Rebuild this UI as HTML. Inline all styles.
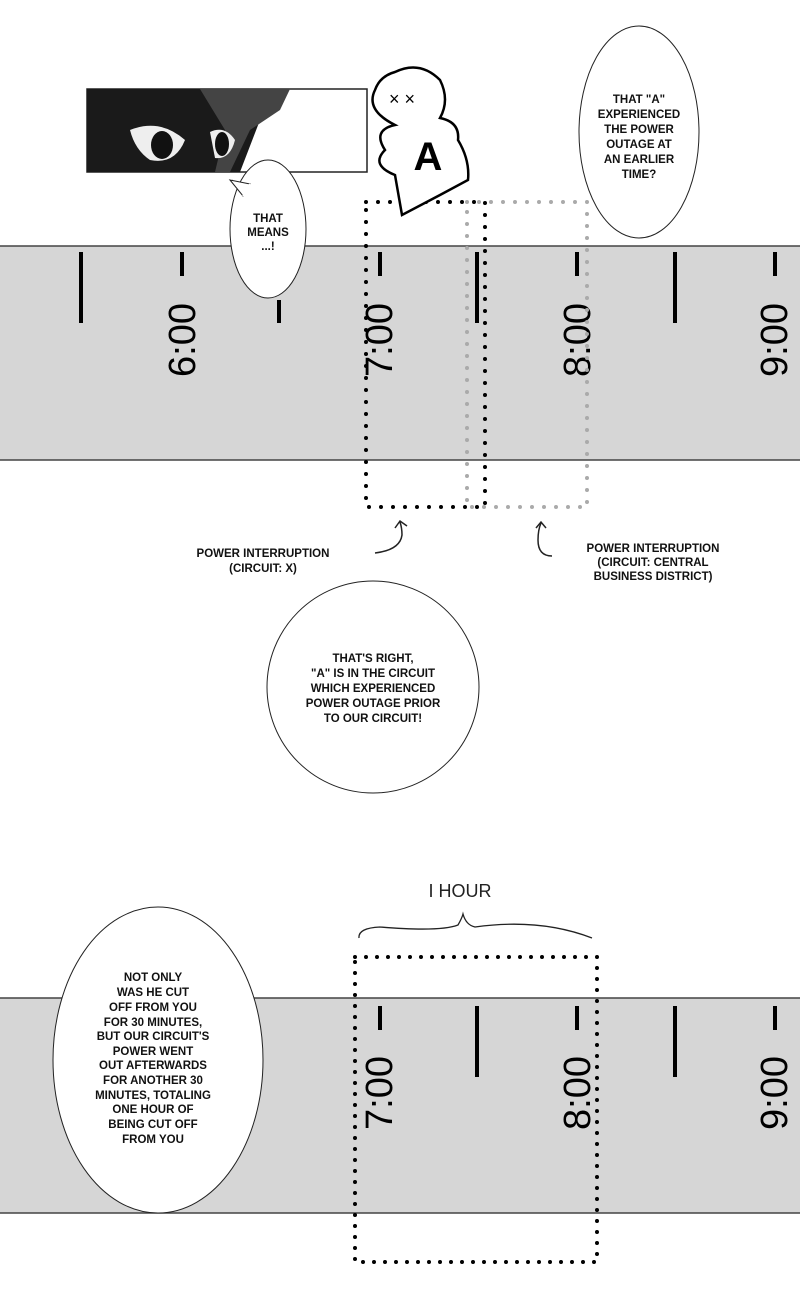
<!DOCTYPE html>
<html><head><meta charset="utf-8"><style>
html,body{margin:0;padding:0;background:#fff;}
svg{display:block}
text{font-family:"Liberation Sans",sans-serif;}
.b{font-size:11.5px;font-weight:bold;text-anchor:middle;fill:#111;}
.t{font-size:38px;fill:#000;text-anchor:middle;}
</style></head><body>
<svg width="800" height="1300" viewBox="0 0 800 1300" xmlns="http://www.w3.org/2000/svg">
<!-- band 1 -->
<rect x="0" y="246" width="800" height="214" fill="#d6d6d6"/>
<line x1="0" y1="246" x2="800" y2="246" stroke="#444" stroke-width="1.5"/>
<line x1="0" y1="460" x2="800" y2="460" stroke="#444" stroke-width="1.5"/>
<g stroke="#000" stroke-width="4">
<line x1="81" y1="252" x2="81" y2="323"/><line x1="279" y1="300" x2="279" y2="323"/>
<line x1="477" y1="252" x2="477" y2="323"/><line x1="675" y1="252" x2="675" y2="323"/>
<line x1="182" y1="252" x2="182" y2="276"/><line x1="380" y1="252" x2="380" y2="276"/>
<line x1="577" y1="252" x2="577" y2="276"/><line x1="775" y1="252" x2="775" y2="276"/>
</g>
<text class="t" transform="translate(195,340) rotate(-90)">6:00</text>
<text class="t" transform="translate(392,340) rotate(-90)">7:00</text>
<text class="t" transform="translate(590,340) rotate(-90)">8:00</text>
<text class="t" transform="translate(787,340) rotate(-90)">9:00</text>
<!-- dotted boxes -->
<rect x="467" y="202" width="120" height="305" fill="none" stroke="#aaa" stroke-width="4" stroke-dasharray="0 12" stroke-linecap="round"/>
<rect x="366" y="202" width="119" height="305" fill="none" stroke="#000" stroke-width="4" stroke-dasharray="0 12" stroke-linecap="round"/>
<!-- manga panel -->
<rect x="87" y="89" width="280" height="83" fill="#fff" stroke="#222" stroke-width="1.5"/>
<path d="M87 89 L290 89 L260 120 L240 172 L87 172 Z" fill="#1a1a1a"/>
<path d="M200 89 L290 89 L280 110 L250 130 L230 172 L215 172 L225 130 Z" fill="#444"/>
<path d="M130 130 Q160 118 185 140 Q175 165 150 160 Q135 150 130 130 Z" fill="#eee"/>
<ellipse cx="162" cy="145" rx="11" ry="14" fill="#111"/>
<path d="M210 132 Q225 125 235 140 Q230 160 215 158 Z" fill="#eee"/>
<ellipse cx="222" cy="144" rx="7" ry="12" fill="#111"/>
<!-- A character -->
<path d="M395 72 Q420 60 440 80 Q450 100 440 118 Q460 122 458 140 Q470 160 468 180 L440 195 L402 215 L395 175 Q370 165 385 150 Q372 130 395 125 Q365 110 375 90 Q380 76 395 72 Z" fill="#fff" stroke="#000" stroke-width="2.5"/>
<text x="428" y="170" font-size="40" font-weight="bold" text-anchor="middle" fill="#000">A</text>
<text x="402" y="105" font-size="18" text-anchor="middle" fill="#000">× ×</text>
<!-- that means bubble -->
<path d="M232 180 L245 192" stroke="#222" fill="none"/>
<ellipse cx="268" cy="229" rx="38" ry="69" fill="#fff" stroke="#222" stroke-width="1"/>
<path d="M230 180 L243 196 L250 184 Z" fill="#fff" stroke="#222" stroke-width="1"/>
<path d="M243 196 L250 184" stroke="#fff" stroke-width="2"/>
<text class="b" x="268" y="222">THAT</text>
<text class="b" x="268" y="236">MEANS</text>
<text class="b" x="268" y="250">...!</text>
<!-- top right bubble -->
<ellipse cx="639" cy="132" rx="60" ry="106" fill="#fff" stroke="#222" stroke-width="1"/>
<text class="b" x="639" y="103">THAT "A"</text>
<text class="b" x="639" y="118">EXPERIENCED</text>
<text class="b" x="639" y="133">THE POWER</text>
<text class="b" x="639" y="148">OUTAGE AT</text>
<text class="b" x="639" y="163">AN EARLIER</text>
<text class="b" x="639" y="178">TIME?</text>
<!-- arrows -->
<path d="M375 553 Q400 550 402 535 Q402 528 400 522" fill="none" stroke="#222" stroke-width="1.5"/>
<path d="M395 528 L400 521 L407 526" fill="none" stroke="#222" stroke-width="1.5"/>
<path d="M552 556 Q538 556 538 540 Q538 530 541 523" fill="none" stroke="#222" stroke-width="1.5"/>
<path d="M536 528 L541 522 L546 528" fill="none" stroke="#222" stroke-width="1.5"/>
<text class="b" x="263" y="557">POWER INTERRUPTION</text>
<text class="b" x="263" y="572">(CIRCUIT: X)</text>
<text class="b" x="653" y="552">POWER INTERRUPTION</text>
<text class="b" x="653" y="566">(CIRCUIT: CENTRAL</text>
<text class="b" x="653" y="580">BUSINESS DISTRICT)</text>
<!-- circle -->
<circle cx="373" cy="687" r="106" fill="#fff" stroke="#222" stroke-width="1"/>
<text class="b" x="373" y="662">THAT'S RIGHT,</text>
<text class="b" x="373" y="677">"A" IS IN THE CIRCUIT</text>
<text class="b" x="373" y="692">WHICH EXPERIENCED</text>
<text class="b" x="373" y="707">POWER OUTAGE PRIOR</text>
<text class="b" x="373" y="722">TO OUR CIRCUIT!</text>
<!-- band 2 -->
<rect x="0" y="998" width="800" height="215" fill="#d6d6d6"/>
<line x1="0" y1="998" x2="800" y2="998" stroke="#444" stroke-width="1.5"/>
<line x1="0" y1="1213" x2="800" y2="1213" stroke="#444" stroke-width="1.5"/>
<g stroke="#000" stroke-width="4">
<line x1="380" y1="1006" x2="380" y2="1030"/><line x1="477" y1="1006" x2="477" y2="1077"/>
<line x1="577" y1="1006" x2="577" y2="1030"/><line x1="675" y1="1006" x2="675" y2="1077"/>
<line x1="775" y1="1006" x2="775" y2="1030"/>
</g>
<text class="t" transform="translate(392,1093) rotate(-90)">7:00</text>
<text class="t" transform="translate(590,1093) rotate(-90)">8:00</text>
<text class="t" transform="translate(787,1093) rotate(-90)">9:00</text>
<rect x="355" y="957" width="242" height="305" fill="none" stroke="#000" stroke-width="4" stroke-dasharray="0 11" stroke-linecap="round"/>
<path d="M359 938 Q358 928 380 927 Q440 932 458 925 Q462 918 463 914 Q466 925 475 927 Q540 918 592 938" fill="none" stroke="#222" stroke-width="1.3"/>
<text x="460" y="897" font-size="18" text-anchor="middle" fill="#222">I HOUR</text>
<ellipse cx="158" cy="1060" rx="105" ry="153" fill="#fff" stroke="#222" stroke-width="1"/>
<text class="b" x="153" y="981">NOT ONLY</text>
<text class="b" x="153" y="996">WAS HE CUT</text>
<text class="b" x="153" y="1011">OFF FROM YOU</text>
<text class="b" x="153" y="1026">FOR 30 MINUTES,</text>
<text class="b" x="153" y="1040">BUT OUR CIRCUIT'S</text>
<text class="b" x="153" y="1055">POWER WENT</text>
<text class="b" x="153" y="1069">OUT AFTERWARDS</text>
<text class="b" x="153" y="1084">FOR ANOTHER 30</text>
<text class="b" x="153" y="1099">MINUTES, TOTALING</text>
<text class="b" x="153" y="1113">ONE HOUR OF</text>
<text class="b" x="153" y="1128">BEING CUT OFF</text>
<text class="b" x="153" y="1143">FROM YOU</text>
</svg>
</body></html>
